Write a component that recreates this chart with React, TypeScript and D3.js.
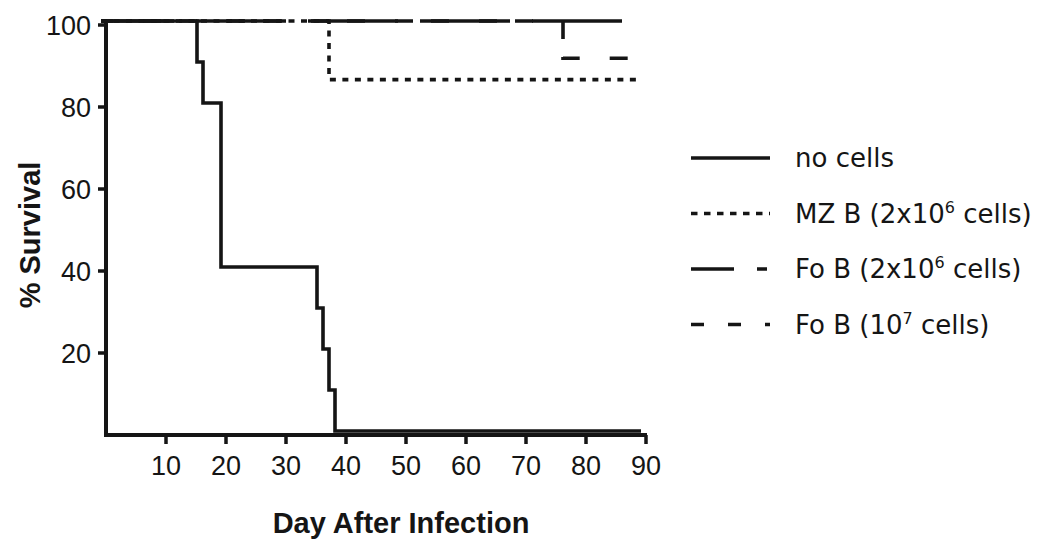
import React from 'react';
import * as d3 from 'd3';

// survival curves (day, % surviving)
const noCellsDay = [0, 16, 17, 20, 36, 37, 38, 39, 90];
const noCellsSurvival = [100, 90, 80, 40, 30, 20, 10, 0, 0];
const mzBDay = [0, 38, 90];
const mzBSurvival = [100, 85.7, 85.7];
const foB2Day = [0, 88];
const foB2Survival = [100, 100];
const foB10Day = [0, 77, 89];
const foB10Survival = [100, 90.9, 90.9];

const xTicks = [10, 20, 30, 40, 50, 60, 70, 80, 90];
const yTicks = [20, 40, 60, 80, 100];

const legendPre = ['no cells', 'MZ B (2x10', 'Fo B (2x10', 'Fo B (10'];
const legendSup = ['', '6', '6', '7'];
const legendPost = ['', ' cells)', ' cells)', ' cells)'];

const ink = '#151515';
const margin = {left: 106, right: 404, top: 25, bottom: 116};
const width = 1050, height = 551;

// Prism style offset of the curves from the axes
const curveShift = {x: -5, y: -4};

const series = [
    {day: noCellsDay, surv: noCellsSurvival, dash: null, offset: 0},
    {day: mzBDay, surv: mzBSurvival, dash: '6,6.5', offset: 0},
    {day: foB2Day, surv: foB2Survival, dash: '90,22', offset: 17},
    {day: foB10Day, surv: foB10Survival, dash: '18,18,18,30', offset: 42},
];
const legendDash = [null, '6.5,6.5', '43,23,10,30', '13,24'];

export default function App() {
    const x = d3.scaleLinear().domain([0, 90]).range([margin.left, width - margin.right]);
    const y = d3.scaleLinear().domain([0, 100]).range([height - margin.bottom, margin.top]);

    const line = d3.line<[number, number]>()
        .x(d => x(d[0]))
        .y(d => y(d[1]))
        .curve(d3.curveStepAfter);

    const x0 = x(0), y0 = y(0);
    const tickFont = '"Liberation Sans", Arial, sans-serif';

    return (
        <svg width={width} height={height} style={{position: 'absolute', left: 0, top: 0, background: '#fff'}}>
            <g transform={'translate(' + curveShift.x + ',' + curveShift.y + ')'} fill='none' stroke={ink} strokeWidth={3.6}>
                {series.map((s, i) => (
                    <path key={i}
                        d={line(s.day.map((d, j) => [d, s.surv[j]] as [number, number])) || ''}
                        strokeDasharray={s.dash || undefined}
                        strokeDashoffset={s.offset} />
                ))}
            </g>

            {/* axes */}
            <g stroke={ink} strokeWidth={4} fill='none'>
                <line x1={x0} x2={x0} y1={y(100) - 2} y2={y0 + 2} />
                <line x1={x0 - 2} x2={x(90) + 1} y1={y0} y2={y0} />
                {xTicks.map(t => <line key={t} x1={x(t)} x2={x(t)} y1={y0} y2={y0 + 9} strokeWidth={3.5} />)}
                {yTicks.map(t => <line key={t} x1={x0} x2={x0 - 8} y1={y(t)} y2={y(t)} strokeWidth={3.5} />)}
            </g>
            <g fill={ink} fontFamily={tickFont} fontSize={27}>
                {xTicks.map(t => <text key={t} x={x(t)} y={y0 + 40} textAnchor='middle'>{t}</text>)}
                {yTicks.map(t => <text key={t} x={x0 - 15} y={y(t) + 10} textAnchor='end'>{t}</text>)}
            </g>
            <text x={(x0 + x(90)) / 2 + 25} y={533} textAnchor='middle' fontFamily={tickFont}
                fontWeight='bold' fontSize={29} fill={ink}>Day After Infection</text>
            <text transform={'translate(40,' + 235 + ') rotate(-90)'} textAnchor='middle' fontFamily={tickFont}
                fontWeight='bold' fontSize={29} fill={ink}>% Survival</text>

            {/* legend */}
            {legendPre.map((label, i) => {
                const ly = 158 + i * 55.5;
                return (
                    <g key={i}>
                        <line x1={691} x2={770} y1={ly} y2={ly} stroke={ink} strokeWidth={3.6}
                            strokeDasharray={legendDash[i] || undefined} />
                        <text x={795} y={ly + 9} fontFamily='"DejaVu Sans", Verdana, sans-serif' fontSize={26} fill={ink}>
                            <tspan>{label}</tspan>
                            {legendSup[i] && <tspan dy={-10} fontSize={16}>{legendSup[i]}</tspan>}
                            {legendPost[i] && <tspan dy={10}>{legendPost[i]}</tspan>}
                        </text>
                    </g>
                );
            })}
        </svg>
    );
}
